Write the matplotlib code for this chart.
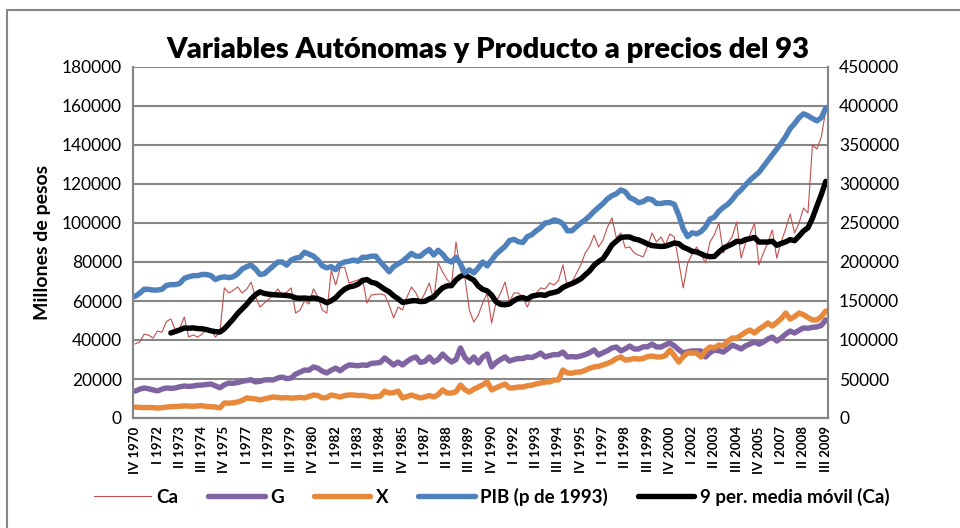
import numpy as np
import pandas as pd
import matplotlib
matplotlib.use('Agg')
import matplotlib.pyplot as plt
from matplotlib.patches import Rectangle

# quarterly series, IV 1970 .. III 2009 (156 quarters)
ca = [38000, 39000, 43000, 42500, 41000, 44600, 44000, 49500, 50800, 45100,
      46000, 51800, 41500, 42600, 41500, 43000, 45600, 45100, 41500, 44100,
      66700, 64100, 65500, 67200, 64100, 66000, 69700, 62000, 56900, 59000,
      61000, 63100, 66200, 63100, 64500, 66700, 53800, 55400, 60000, 58500,
      66200, 62100, 55400, 53800, 75900, 68200, 76900, 77400, 69200, 70000,
      70800, 71800, 59000, 63100, 63400, 63600, 63100, 57900, 51300, 56900,
      55400, 62000, 67200, 64100, 59500, 64000, 69200, 60500, 79500, 74900,
      71000, 68200, 90300, 75900, 71800, 55400, 49200, 52800, 59000, 64100,
      48700, 59500, 64000, 69700, 59500, 64100, 64100, 62000, 56900, 62100,
      64000, 66700, 66200, 69200, 68200, 70500, 78500, 67200, 69700, 74000,
      78500, 84600, 88000, 93800, 87700, 91300, 97900, 102600, 92300, 94900,
      87200, 87700, 84600, 83500, 82600, 88000, 94900, 90300, 92800, 88700,
      94400, 92800, 80000, 66700, 79500, 84000, 87700, 84000, 79500, 90300,
      94000, 100000, 84600, 89700, 93000, 100500, 82000, 89700, 94000, 100000,
      78500, 84600, 90000, 96400, 82000, 90300, 97000, 104600, 94900, 100000,
      107700, 105100, 140000, 137900, 144100, 157900]

g = [13800, 14800, 15400, 15000, 14400, 13900, 14800, 15400, 15200, 15400,
     16000, 16400, 16200, 16400, 16800, 16900, 17200, 17400, 16500, 15500,
     17000, 17900, 17800, 18200, 18800, 19200, 19600, 18500, 18800, 19500,
     19600, 19500, 20500, 21000, 20200, 20500, 22500, 23500, 24600, 24500,
     26200, 25500, 24000, 23100, 24500, 25600, 24200, 26000, 27200, 27000,
     26800, 27200, 27000, 28000, 28200, 28500, 30800, 29000, 27200, 28700,
     27200, 29000, 30500, 31300, 28500, 29000, 31300, 28700, 30000, 32800,
     30500, 28700, 30000, 35900, 31000, 28700, 31300, 28200, 31300, 32800,
     26200, 28500, 30000, 31300, 29200, 30000, 30500, 30500, 31300, 31000,
     32000, 33300, 31300, 32000, 32500, 32500, 33800, 31300, 31500, 31300,
     31800, 32500, 33500, 34900, 32300, 33500, 34500, 35900, 36400, 34400,
     35500, 36900, 35400, 35400, 36500, 36500, 37900, 36400, 36400, 37500,
     38500, 37000, 35000, 33300, 34000, 34400, 34400, 34400, 31300, 33500,
     34900, 34500, 33800, 35500, 37400, 36500, 35400, 37000, 38000, 39000,
     37900, 39000, 40500, 41500, 39500, 41000, 43000, 44600, 43600, 45000,
     46200, 46000, 46500, 46700, 47500, 50300]

x_exp = [5600, 5400, 5300, 5400, 5300, 5100, 5300, 5600, 5800, 5900,
         6000, 6200, 6100, 6000, 6200, 6300, 5900, 5800, 5600, 5200,
         7700, 7600, 7800, 8200, 9000, 10300, 10000, 9800, 9200, 9800,
         10300, 10800, 10500, 10300, 10500, 10200, 10300, 10600, 10300, 11000,
         11800, 11500, 10300, 10500, 11800, 11300, 10800, 11500, 11800, 11800,
         11500, 11600, 11300, 10800, 11000, 11200, 13800, 12800, 13000, 13800,
         10300, 11000, 11800, 11000, 10300, 10800, 11500, 10800, 12000, 14400,
         12800, 12800, 13500, 16900, 14500, 13300, 14800, 15900, 17000, 18500,
         14400, 15500, 16500, 17400, 15400, 15500, 15900, 15900, 16500, 16800,
         17500, 17900, 18500, 18500, 19500, 19500, 24600, 23100, 23000, 23500,
         23600, 24500, 25500, 26200, 26500, 27200, 28000, 29000, 30500, 31300,
         29700, 30000, 30500, 30200, 30500, 31500, 31800, 31300, 31300, 32000,
         34900, 32000, 28700, 31500, 33300, 33300, 33300, 31300, 34500, 36400,
         36000, 37400, 37000, 39500, 41000, 41000, 42500, 44000, 45100, 43600,
         45500, 47000, 48700, 47200, 49000, 51000, 53800, 50800, 52000, 53800,
         53000, 51500, 50300, 50300, 52000, 54900]

pib = [156000, 160000, 165000, 165000, 164000, 164000, 165000, 170000, 171000, 171000,
       172500, 179000, 181000, 182500, 182500, 184000, 184000, 182500, 177500, 180000,
       181000, 180000, 181000, 185000, 191000, 194000, 196000, 191000, 184000, 185000,
       190000, 195000, 200000, 200000, 196000, 202500, 205000, 206000, 212500, 210000,
       207500, 202500, 195000, 192500, 194000, 190000, 197500, 200000, 201000, 202500,
       201000, 206000, 206000, 207500, 207500, 200000, 194000, 187500, 194000, 197500,
       201000, 206000, 211000, 207500, 207500, 212500, 216000, 209000, 215000, 210000,
       202500, 200000, 206000, 197500, 186000, 190000, 186000, 192500, 200000, 195000,
       202500, 210000, 215000, 220000, 227500, 229000, 226000, 225000, 232500, 235000,
       240000, 244000, 250000, 251000, 254000, 252500, 249000, 240000, 240000, 245000,
       250000, 254000, 259000, 265000, 270000, 275000, 281000, 285000, 287500, 292500,
       290000, 282500, 280000, 276000, 277500, 281000, 280000, 275000, 275000, 276000,
       276000, 274000, 260000, 242500, 232500, 237500, 236000, 239000, 245000, 255000,
       257500, 265000, 270000, 274000, 280000, 287500, 292500, 299000, 305000, 310000,
       315000, 322500, 330000, 337500, 345000, 352500, 361000, 371000, 377500, 385000,
       390000, 387500, 384000, 381000, 385000, 397500]

roman = ['I', 'II', 'III', 'IV']
quarters = [f'{roman[(3 + i) % 4]} {1970 + (3 + i) // 4}' for i in range(len(ca))]

params = {
    'font.family': ['Lato', 'DejaVu Sans'],
    'font.size': 11,
    'axes.edgecolor': '#868686',
    'axes.linewidth': 1.5,
    'figure.figsize': (9.6, 5.28),
    'figure.dpi': 100,
}
plt.rcParams.update(params)

colors = {'ca': '#C0504D', 'g': '#8064A2', 'x': '#E8883A', 'pib': '#4F81BD', 'ma': '#000000'}
lw = 3.9

fig = plt.figure()
fig.patches.append(Rectangle((7 / 960, -0.1), 1.1, 1 - 10 / 528 + 0.1, transform=fig.transFigure,
                             fill=False, edgecolor='#868686', lw=1.5))

ax = fig.add_axes([133 / 960, 1 - 418 / 528, 695 / 960, 351 / 528])
ax2 = ax.twinx()

xs = np.arange(len(ca))
ma = pd.Series(ca).rolling(9).mean()

l1, = ax.plot(xs, ca, color=colors['ca'], lw=0.8, label='Ca')
l2, = ax.plot(xs, g, color=colors['g'], lw=lw, label='G', solid_capstyle='round')
l3, = ax.plot(xs, x_exp, color=colors['x'], lw=lw, label='X', solid_capstyle='round')
l5, = ax.plot(xs, ma, color=colors['ma'], lw=lw, label='9 per. media móvil (Ca)', solid_capstyle='round', zorder=5)
l4, = ax2.plot(xs, pib, color=colors['pib'], lw=lw, label='PIB (p de 1993)', solid_capstyle='round')

ax.set_xlim(-0.5, len(ca) - 0.5)
ax.set_ylim(0, 180000)
ax.set_yticks(np.arange(0, 180001, 20000))
ax2.set_ylim(0, 450000)
ax2.set_yticks(np.arange(0, 450001, 50000))
ax.yaxis.grid(True, color='#868686', lw=1.5)
ax.set_axisbelow(True)

ax.set_xticks(xs[::5])
ax.set_xticklabels(quarters[::5], rotation=90, fontweight='bold', fontsize=9.5)
ax.tick_params(axis='x', length=0, pad=6)
ax.tick_params(axis='y', length=0, pad=8, labelsize=12.5)
ax2.tick_params(axis='y', length=0, pad=8, labelsize=12.5)

for a in (ax, ax2):
    a.spines['top'].set_visible(False)

ax.set_ylabel('Millones de pesos', fontsize=14, fontweight='bold', labelpad=8)
fig.text(488 / 960, 1 - 50 / 528, 'Variables Autónomas y Producto a precios del 93',
         ha='center', va='center', fontsize=21, fontweight='heavy')

fig.legend(handles=[l1, l2, l3, l4, l5], loc='center', bbox_to_anchor=(492 / 960, 1 - 497 / 528),
           ncol=5, frameon=False, prop={'weight': 'bold', 'size': 13.5},
           handlelength=3.0, columnspacing=1.6, handletextpad=0.3)

fig.savefig('out.png', dpi=100)
